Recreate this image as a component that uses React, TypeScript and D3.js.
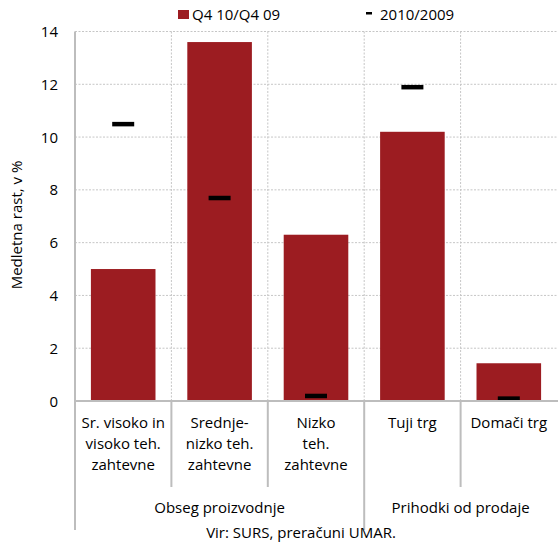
import React from 'react';
import * as d3 from 'd3';

// categories (lines of each label) and group spans
const categories = ['c1', 'c2', 'c3', 'c4', 'c5'];
const categoryLabels: string[][] = [
  ['Sr. visoko in', 'visoko teh.', 'zahtevne'],
  ['Srednje-', 'nizko teh.', 'zahtevne'],
  ['Nizko', 'teh.', 'zahtevne'],
  ['Tuji trg'],
  ['Domači trg'],
];
const groups = [
  { label: 'Obseg proizvodnje', from: 0, to: 2 },
  { label: 'Prihodki od prodaje', from: 3, to: 4 },
];

// series
const q4Values = [5.0, 13.6, 6.3, 10.2, 1.43];
const yearValues = [10.5, 7.7, 0.2, 11.9, 0.1];
const yTicks = [0, 2, 4, 6, 8, 10, 12, 14];

const W = 558;
const H = 543;
const margin = { top: 31.5, right: 1, bottom: 142, left: 75 };
const red = '#9c1c21';
const gridColor = '#c6c6c6';
const axisColor = '#bdbdbd';
const font = '"Open Sans", sans-serif';

const App: React.FC = () => {
  const x = d3.scaleBand<string>()
    .domain(categories)
    .range([margin.left, W - margin.right])
    .paddingInner(0)
    .paddingOuter(0);
  const y = d3.scaleLinear()
    .domain([0, 14])
    .range([H - margin.bottom, margin.top]);

  const bw = x.bandwidth();
  const barW = bw * 0.67;
  const markW = 22;
  const y0 = y(0);

  return (
    <svg width={W} height={H} style={{ position: 'absolute', left: 0, top: 0, fontFamily: font }}>
      {/* horizontal gridlines */}
      {yTicks.filter(t => t > 0).map(t => (
        <line key={'g' + t} x1={margin.left} x2={W - margin.right} y1={y(t)} y2={y(t)}
          stroke={gridColor} strokeWidth={1} strokeDasharray="2,1.5" />
      ))}
      {/* vertical gridlines at category boundaries */}
      {categories.slice(1).map(c => (
        <line key={'v' + c} x1={x(c)!} x2={x(c)!} y1={margin.top} y2={y0}
          stroke={gridColor} strokeWidth={1} strokeDasharray="2,1.5" />
      ))}

      {/* bars */}
      {categories.map((c, i) => (
        <rect key={'b' + c} x={x(c)! + (bw - barW) / 2} width={barW}
          y={y(q4Values[i])} height={y0 - y(q4Values[i])} fill={red} />
      ))}

      {/* markers */}
      {categories.map((c, i) => (
        <rect key={'m' + c} x={x(c)! + bw / 2 - markW / 2} width={markW}
          y={y(yearValues[i]) - 2} height={4.5} fill="#000" />
      ))}

      {/* axes */}
      <line x1={margin.left} x2={margin.left} y1={margin.top} y2={530} stroke={axisColor} strokeWidth={2} />
      <line x1={margin.left} x2={W} y1={y0} y2={y0} stroke={axisColor} strokeWidth={2} />
      {categories.slice(1).map((c, i) => {
        const isGroupEdge = groups.some(g => g.from === i + 1);
        return (
          <line key={'s' + c} x1={x(c)!} x2={x(c)!} y1={y0} y2={isGroupEdge ? 530 : 487}
            stroke={axisColor} strokeWidth={2} />
        );
      })}

      {/* y tick labels */}
      {yTicks.map(t => (
        <text key={'t' + t} x={58} y={y(t) + 5.5} textAnchor="end" fontSize={15} fill="#000">{t}</text>
      ))}
      <text transform={`translate(22,225) rotate(-90)`} textAnchor="middle" fontSize={15} fill="#000">
        Medletna rast, v %
      </text>

      {/* category labels */}
      {categories.map((c, i) => (
        <text key={'l' + c} textAnchor="middle" fontSize={15} fill="#000">
          {categoryLabels[i].map((ln, j) => (
            <tspan key={j} x={x(c)! + bw / 2} y={428 + j * 21}>{ln}</tspan>
          ))}
        </text>
      ))}

      {/* group labels */}
      {groups.map(g => (
        <text key={g.label} x={(x(categories[g.from])! + x(categories[g.to])! + bw) / 2} y={513}
          textAnchor="middle" fontSize={15} fill="#000">{g.label}</text>
      ))}
      <text x={301} y={538} textAnchor="middle" fontSize={15} fill="#000">Vir: SURS, preračuni UMAR.</text>

      {/* legend */}
      <rect x={178} y={10} width={11} height={9} fill={red} />
      <text x={192} y={20} fontSize={15} fill="#000">Q4 10/Q4 09</text>
      <rect x={366} y={12} width={6} height={2.5} fill="#000" />
      <text x={380} y={20} fontSize={15} fill="#000">2010/2009</text>
    </svg>
  );
};

export default App;
